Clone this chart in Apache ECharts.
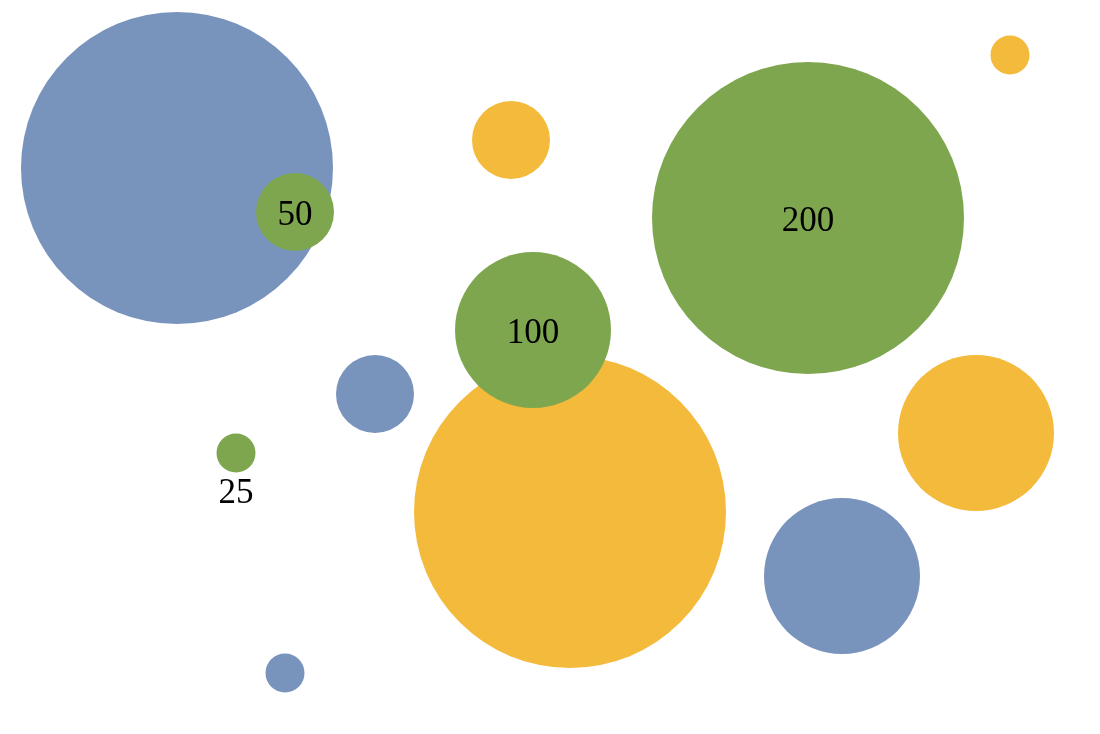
<!DOCTYPE html>
<html>
<head>
<meta charset="utf-8">
<style>
  html, body { margin: 0; padding: 0; background: #ffffff; }
  #chart { width: 1100px; height: 734px; }
</style>
<script src="https://cdn.jsdelivr.net/npm/echarts@6/dist/echarts.min.js"></script>
</head>
<body>
<div id="chart"></div>
<script>
// [x, y, size]
const blueData = [
  [1.77, 5.66, 200],
  [3.75, 3.40, 50],
  [8.42, 1.58, 100],
  [2.85, 0.61, 25]
];
const yellowData = [
  [10.10, 6.79, 25],
  [5.11, 5.94, 50],
  [5.70, 2.22, 200],
  [9.76, 3.01, 100]
];
const greenData = [
  [2.95, 5.22, 50],
  [2.36, 2.81, 25],
  [5.33, 4.04, 100],
  [8.08, 5.16, 200]
];

const SIZE_SCALE = 1.56; // bubble diameter (px) per size unit

const chart = echarts.init(document.getElementById('chart'), null, { renderer: 'canvas' });

function bubbleSeries(name, data, color, withLabels) {
  return {
    name: name,
    type: 'scatter',
    data: data.map(function (d) {
      const item = { value: d };
      if (withLabels) {
        const small = d[2] * SIZE_SCALE < 50;
        item.label = {
          show: true,
          position: small ? 'bottom' : 'inside',
          distance: 4,
          offset: small ? [0, 0] : [0, 4]
        };
      }
      return item;
    }),
    symbolSize: function (d) { return d[2] * SIZE_SCALE; },
    itemStyle: { color: color, opacity: 1 },
    label: {
      show: false,
      formatter: function (p) { return String(p.value[2]); },
      fontFamily: 'Liberation Serif',
      fontSize: 35,
      color: '#000000'
    },
    emphasis: { disabled: true },
    silent: true
  };
}

chart.setOption({
  animation: false,
  backgroundColor: '#ffffff',
  grid: { left: 0, right: 0, top: 0, bottom: 0 },
  xAxis: { type: 'value', min: 0, max: 11, show: false },
  yAxis: { type: 'value', min: 0, max: 7.34, show: false },
  series: [
    bubbleSeries('Blue', blueData, '#7893bc', false),
    bubbleSeries('Yellow', yellowData, '#f3ba3b', false),
    bubbleSeries('Green', greenData, '#7ea64f', true)
  ]
});
</script>
</body>
</html>
